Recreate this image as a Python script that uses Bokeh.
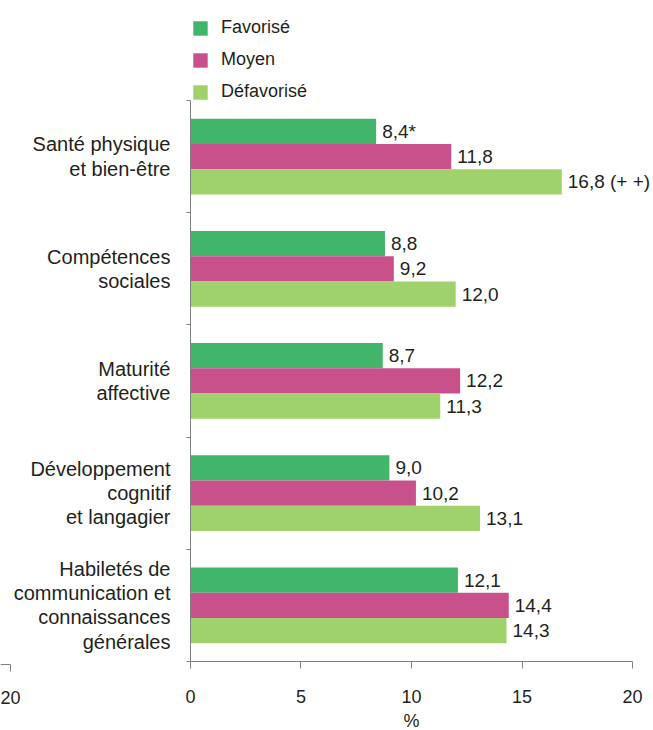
from bokeh.plotting import figure
from bokeh.models import (ColumnDataSource, LabelSet, Legend, LegendItem, FixedTicker,
                          Range1d, LinearAxis)
from bokeh.core.properties import value
from bokeh.embed import file_html
from bokeh.resources import INLINE

# ---- data ----
categories = [
    "Santé physique\net bien-être",
    "Compétences\nsociales",
    "Maturité\naffective",
    "Développement\ncognitif\net langagier",
    "Habiletés de\ncommunication et\nconnaissances\ngénérales",
]
series_names = ["Favorisé", "Moyen", "Défavorisé"]
favorise = [8.4, 8.8, 8.7, 9.0, 12.1]
moyen = [11.8, 9.2, 12.2, 10.2, 14.4]
defavorise = [16.8, 12.0, 11.3, 13.1, 14.3]
favorise_marks = ["*", "", "", "", ""]
moyen_marks = ["", "", "", "", ""]
defavorise_marks = [" (+ +)", "", "", "", ""]
x_ticks = [0, 5, 10, 15, 20]
x_title = "%"
# fragment of the neighbouring (mirrored) panel's axis, visible at the far left
fragment_tick = [-8.145]
fragment_label = "20"

# ---- styles ----
colors = ["#41b66b", "#c9518b", "#a0d26b"]
FONT = "Liberation Sans"
TXT = "#231f20"
AXC = "#808080"


def fr(v):
    return f"{v:.1f}".replace(".", ",")


n = len(categories)
centers = [n - 0.5 - i for i in range(n)]
bar_h = 0.225
offsets = [bar_h, 0.0, -bar_h]

W, H = 653, 730
p = figure(width=W, height=H, output_backend="svg", toolbar_location=None,
           x_range=Range1d(-8.597, 20.95), y_range=Range1d(-0.615, 5.891),
           min_border_left=0, min_border_right=0, min_border_top=0,
           min_border_bottom=0)
p.outline_line_color = None
p.xgrid.visible = False
p.ygrid.visible = False
p.background_fill_color = "white"
p.border_fill_color = "white"

renderers = []
for vals, marks, off, color in zip([favorise, moyen, defavorise],
                                   [favorise_marks, moyen_marks, defavorise_marks],
                                   offsets, colors):
    src = ColumnDataSource(dict(
        y=[c + off for c in centers],
        right=vals,
        text=[fr(v) + m for v, m in zip(vals, marks)],
    ))
    r = p.hbar(y="y", left=0, right="right", height=bar_h, source=src,
               fill_color=color, line_color=None)
    renderers.append(r)
    p.add_layout(LabelSet(x="right", y="y", text="text", source=src,
                          x_offset=6, text_baseline="middle", text_align="left",
                          text_font=value(FONT), text_font_size="19px", text_color=TXT))

# y axis at x = 0: labels at group centres, small ticks at group boundaries
ya = p.yaxis[0]
ya.fixed_location = 0
ya.bounds = (0, n)
ya.ticker = FixedTicker(ticks=centers, minor_ticks=list(range(n + 1)))
ya.major_label_overrides = {c: cat for c, cat in zip(centers, categories)}
ya.major_tick_out = 0
ya.major_tick_in = 0
ya.minor_tick_out = 4
ya.minor_tick_in = 0
ya.minor_tick_line_color = AXC
ya.axis_line_color = AXC
ya.major_label_standoff = 16
ya.major_label_text_font = FONT
ya.major_label_text_font_size = "20px"
ya.major_label_text_color = TXT
ya.major_label_text_line_height = 1.1

xa = p.xaxis[0]
xa.fixed_location = 0
xa.bounds = (0, 20)
xa.ticker = FixedTicker(ticks=x_ticks)
xa.major_tick_out = 7
xa.major_tick_in = 0
xa.minor_tick_line_color = None
xa.major_tick_line_color = AXC
xa.axis_line_color = AXC
xa.major_label_standoff = 22
xa.major_label_text_font = FONT
xa.major_label_text_font_size = "18px"
xa.major_label_text_color = TXT
xa.axis_label = x_title
xa.axis_label_standoff = 4
xa.axis_label_text_font = FONT
xa.axis_label_text_font_size = "18px"
xa.axis_label_text_font_style = "normal"
xa.axis_label_text_color = TXT

frag = LinearAxis(fixed_location=-0.027, bounds=(-8.597, fragment_tick[0]),
                  ticker=FixedTicker(ticks=fragment_tick),
                  major_label_overrides={fragment_tick[0]: fragment_label},
                  major_tick_out=7, major_tick_in=0, minor_tick_line_color=None,
                  major_tick_line_color=AXC, axis_line_color=AXC,
                  major_label_standoff=19,
                  major_label_text_font=FONT, major_label_text_font_size="18px",
                  major_label_text_color=TXT)
p.add_layout(frag, "below")

legend = Legend(items=[LegendItem(label=nm, renderers=[r]) for nm, r in zip(series_names, renderers)],
                location=(191, 628), orientation="vertical",
                glyph_width=18, glyph_height=18, label_standoff=12, label_height=18,
                spacing=11, padding=0, margin=0, border_line_color=None,
                background_fill_alpha=0, label_text_font=FONT,
                label_text_font_size="18px", label_text_color=TXT)
p.add_layout(legend)

open("out.html", "w").write(file_html(p, INLINE))
